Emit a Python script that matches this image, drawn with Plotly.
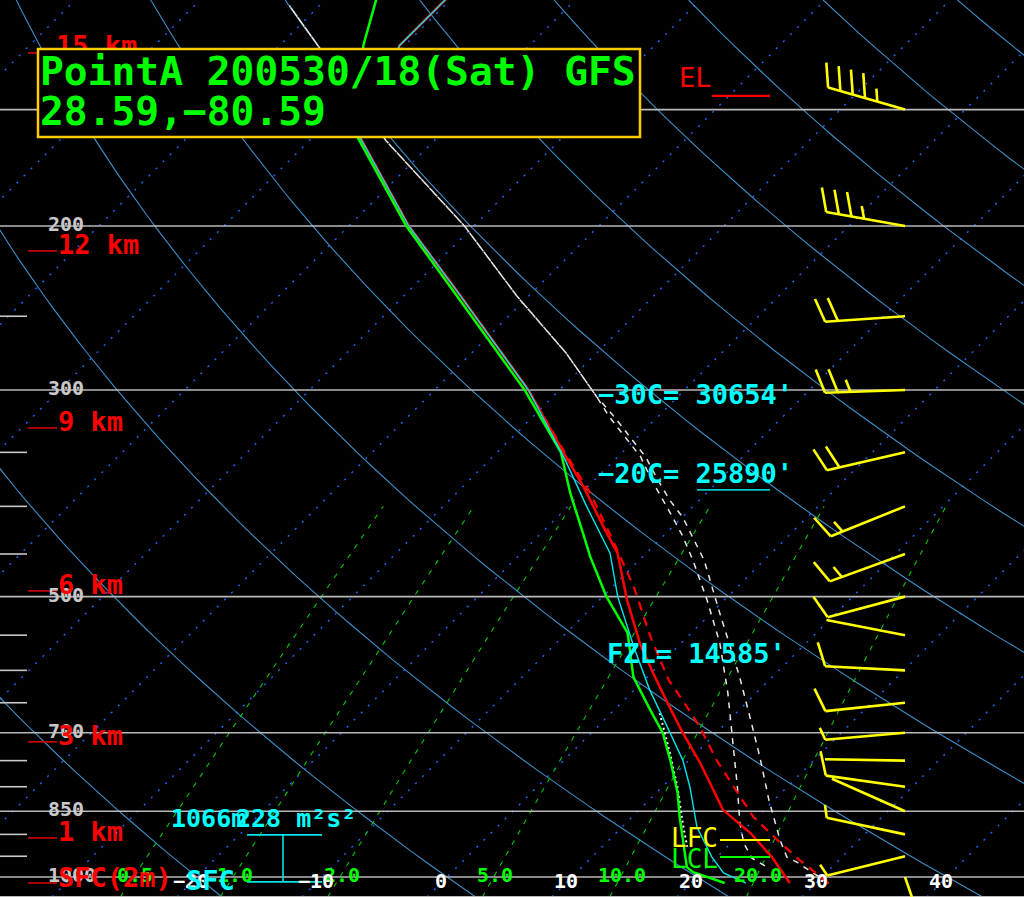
import math
import numpy as np
import plotly.graph_objects as go

# ---------------- sounding data (pressure hPa, temperature degC) ----------------
t_p = [1015, 952, 897, 847, 754, 700, 657, 604, 561, 504, 449, 421, 381, 350, 300, 238, 200, 160, 128, 114]
t_T = [27.9, 24.4, 20.75, 16.7, 11.1, 7.3, 4.2, 0.15, -3.3, -7.8, -12.3, -15.5, -20.35, -24.7, -32.5, -45.4, -55.2, -66.4, -70.4, -70.4]

td_p = [1015, 988, 976, 913, 862, 812, 749, 700, 662, 610, 547, 500, 453, 427, 387, 350, 300, 238, 200, 160, 128, 114]
td_T = [22.7, 19.3, 18.4, 15.9, 13.8, 11.7, 8.5, 5.7, 2.9, -1.1, -5.1, -9.7, -14.2, -16.7, -20.9, -24.9, -32.8, -45.7, -55.4, -66.6, -73.3, -76.0]

tv_p = [1015, 959, 913, 862, 812, 749, 690, 657, 615, 553, 488, 435, 387, 350, 300, 238, 200, 160, 128, 114]
tv_T = [31.0, 26.85, 23.5, 19.7, 16.5, 12.2, 8.2, 5.6, 2.0, -2.9, -8.3, -13.7, -19.3, -24.6, -32.5, -45.4, -55.2, -66.4, -70.4, -70.4]

tw_p = [1015, 990, 952, 884, 800, 749, 690, 630, 566, 500, 449, 401, 357, 300, 238, 200, 160, 128, 114]
tw_T = [24.4, 21.8, 19.6, 16.0, 12.2, 9.5, 5.6, 1.25, -3.5, -8.8, -12.9, -18.4, -23.9, -32.5, -45.4, -55.2, -66.4, -70.4, -70.4]

# downdraft parcel (white dotted)
dc_p = [667, 736, 800, 879, 928]
dc_T = [3.9, 7.9, 11.2, 14.7, 16.8]

# parcel traces (white dashed)
sb_p = [1015, 978, 964, 952, 913, 827, 743, 673, 610, 521, 457, 411, 394, 375, 354, 337, 321, 305, 274, 238, 200, 162, 126, 116]
sb_T = [31.0, 28.05, 26.8, 25.6, 23.7, 19.6, 15.4, 11.4, 7.4, 0.7, -4.8, -9.95, -12.35, -14.9, -17.75, -20.6, -23.4, -26.5, -32.4, -40.9, -50.75, -63.85, -77.8, -82.4]
ml_p = [973, 954, 919, 875, 800, 713, 634, 561, 504, 457, 431, 411, 394, 375, 354, 337, 321, 305, 274, 238, 200, 162, 126, 116]
ml_T = [24.55, 22.85, 21.0, 19.1, 16.0, 11.9, 7.7, 3.1, -1.4, -5.7, -8.4, -10.75, -12.9, -15.4, -18.15, -21.0, -23.8, -26.5, -32.4, -40.9, -50.75, -63.85, -77.8, -82.4]

# winds (hPa, direction deg, speed kt)
wind_p = [150, 200, 250, 300, 350, 400, 450, 500, 550, 600, 650, 700, 750, 800, 850, 900, 950, 1000]
wind_dir = [286, 280, 266, 268, 257, 248, 250, 255, 281, 273, 264, 265, 271, 278, 294, 282, 256, 161]
wind_spd = [45, 35, 20, 25, 20, 15, 15, 10, 3, 10, 10, 5, 3, 10, 3, 5, 5, 3]

# height markers
hgt_lbl = ["15 km", "12 km", "9 km", "6 km", "3 km", "1 km", "SFC(2m)"]
hgt_p = [130.4, 212.7, 329.5, 493.0, 716.0, 908.0, 1015.0]

# diagram furniture
main_p = [150, 200, 300, 500, 700, 850, 1000, 1050]
tick_p = [250, 350, 400, 450, 550, 600, 650, 750, 800, 900, 950]
plabel_p = [200, 300, 500, 700, 850, 1000]
iso_T = list(range(-130, 60, 10))
theta_C = list(range(-40, 220, 20))
mix_w = [0.5, 1.0, 2.0, 5.0, 10.0, 20.0]
mix_lbl = ["0.5", "1.0", "2.0", "5.0", "10.0", "20.0"]
tlabel_T = [-20, -10, 0, 10, 20, 30, 40]

# levels
el_p, lfc_p, lcl_p, m20_p = 145.0, 912.6, 951.8, 384.0
srh_top_p, srh_bot_p = 901.0, 1012.0

# ---------------- geometry of the diagram ----------------
W, H = 1024, 897
X0, SX, SK = 447.0, 12.5, 32.4      # px of 0C at 1000 hPa, px per degC, skew degC per ln(p)
Y1000, PY = 877.0, 404.5            # px of 1000 hPa, px per ln(p)
P_TOP = 1000 * math.exp(-Y1000 / PY)
P_BOT = 1000 * math.exp((H - Y1000) / PY)
XS_L, XS_R = -X0 / SX, (W - X0) / SX
FONT = "DejaVu Sans Mono"


def skew(T, p):
    T = np.asarray(T, float)
    p = np.asarray(p, float)
    return T + SK * np.log(1000.0 / p)


def xs_px(px):
    return (px - X0) / SX


def p_py(py):
    return 1000.0 * math.exp(-(Y1000 - py) / PY)


def py_p(p):
    return Y1000 - PY * math.log(1000.0 / p)


def td_of_w(w, p):
    e = w * p / (622.0 + w)
    a = np.log(e / 6.112)
    return 243.5 * a / (17.67 - a)


fig = go.Figure()


def line(x, y, color, width, dash=None):
    fig.add_trace(go.Scatter(x=x, y=y, mode="lines", hoverinfo="skip", showlegend=False,
                             line=dict(color=color, width=width, dash=dash)))


# isotherms (dotted blue)
ix, iy = [], []
for T in iso_T:
    ix += [T + SK * math.log(1000 / P_BOT), T + SK * math.log(1000 / P_TOP), None]
    iy += [P_BOT, P_TOP, None]
line(ix, iy, "#2266ff", 1.4, "2px,8px")

# dry adiabats
pg = np.geomspace(P_BOT, P_TOP, 80)
ax_, ay_ = [], []
for th in theta_C:
    T = (th + 273.15) * (pg / 1000.0) ** 0.286 - 273.15
    ax_ += list(skew(T, pg)) + [None]
    ay_ += list(pg) + [None]
line(ax_, ay_, "#3f8fc8", 1.1)

# mixing ratio lines
pm = np.geomspace(P_BOT, 400, 40)
mx, my = [], []
for w in mix_w:
    mx += list(skew(td_of_w(w, pm), pm)) + [None]
    my += list(pm) + [None]
line(mx, my, "#00c800", 1.1, "5px,7px")

# pressure lines
hx, hy = [], []
for p in main_p:
    hx += [XS_L, XS_R, None]
    hy += [p, p, None]
line(hx, hy, "#b9b9b9", 1.6)
tx, ty = [], []
for p in tick_p:
    tx += [XS_L, xs_px(27), None]
    ty += [p, p, None]
line(tx, ty, "#c8c8c8", 1.6)

# red height ticks
rx, ry = [], []
for p in hgt_p:
    rx += [xs_px(28), xs_px(57), None]
    ry += [p, p, None]
line(rx, ry, "#e00000", 1.5)

# parcel traces and profiles
line(list(skew(ml_T, ml_p)), ml_p, "#e6e6e6", 1.5, "6px,6px")
line(list(skew(sb_T, sb_p)), sb_p, "#e6e6e6", 1.5, "6px,6px")
line(list(skew(dc_T, dc_p)), dc_p, "#ffffff", 2, "2px,3px")
line(list(skew(tv_T, tv_p)), tv_p, "#ff0000", 2.2, "9px,7px")
line(list(skew(t_T, t_p)), t_p, "#ff0000", 2.5)
line(list(skew(td_T, td_p)), td_p, "#00ff00", 2.5)
line(list(skew(tw_T, tw_p)), tw_p, "#00e5e5", 1.4)

# SRH layer bracket
bx = [xs_px(247), xs_px(322), None, xs_px(283), xs_px(283), None, xs_px(247), xs_px(322)]
by = [srh_top_p, srh_top_p, None, srh_top_p, srh_bot_p, None, srh_bot_p, srh_bot_p]
line(bx, by, "#00e5e5", 1.6)

# level underlines
line([xs_px(712), xs_px(770)], [el_p, el_p], "#ff0000", 2.2)
line([xs_px(720), xs_px(770)], [lfc_p, lfc_p], "#ffff00", 2.2)
line([xs_px(720), xs_px(770)], [lcl_p, lcl_p], "#00ff00", 2.2)
line([xs_px(697), xs_px(770)], [m20_p, m20_p], "#00c8c8", 1.6)

# top height label as a text trace so that the title box covers it
fig.add_trace(go.Scatter(
    x=[xs_px(56)], y=[p_py(py_p(hgt_p[0]) - 5)], mode="text",
    text=["<b>%s</b>" % hgt_lbl[0]], textposition="middle right",
    textfont=dict(family=FONT, size=27, color="#ff0000"), hoverinfo="skip", showlegend=False))

# wind barbs
BARB_PX, STAFF, LONG, SHORT, SPACE = 905.0, 80.0, 25.0, 13.0, 12.8
wx, wy = [], []
for p, d, s in zip(wind_p, wind_dir, wind_spd):
    b0x, b0y = BARB_PX, py_p(p)
    th = math.radians(d)
    ux, uy = math.sin(th), -math.cos(th)
    tipx, tipy = b0x + STAFF * ux, b0y + STAFF * uy
    segs = [((b0x, b0y), (tipx, tipy))]
    prx, pry = -uy, ux
    a = math.radians(20)
    fx = math.cos(a) * prx + math.sin(a) * ux
    fy = math.cos(a) * pry + math.sin(a) * uy
    n10 = int(s // 10)
    n5 = int((s % 10) // 5)
    pos = 0.0
    for i in range(n10):
        sx0, sy0 = tipx - pos * ux, tipy - pos * uy
        segs.append(((sx0, sy0), (sx0 + LONG * fx, sy0 + LONG * fy)))
        pos += SPACE
    if n5:
        sx0, sy0 = tipx - pos * ux, tipy - pos * uy
        segs.append(((sx0, sy0), (sx0 + SHORT * fx, sy0 + SHORT * fy)))
    for (ax0, ay0), (ax1, ay1) in segs:
        wx += [xs_px(ax0), xs_px(ax1), None]
        wy += [p_py(ay0), p_py(ay1), None]
line(wx, wy, "#ffff00", 2.6)


# ---------------- annotations ----------------
def note(x, y, text, color, size, xanchor="left", bold=True, data=False):
    t = "<b>%s</b>" % text if bold else text
    if data:
        fig.add_annotation(x=x, y=math.log10(y), xref="x", yref="y", text=t, showarrow=False,
                           xanchor=xanchor, yanchor="middle", borderpad=0,
                           font=dict(family=FONT, size=size, color=color))
    else:
        fig.add_annotation(x=x / W, y=1 - y / H, xref="paper", yref="paper", text=t, showarrow=False,
                           xanchor=xanchor, yanchor="middle", borderpad=0,
                           font=dict(family=FONT, size=size, color=color))


# pressure labels
for p in plabel_p:
    note(xs_px(47), p_py(py_p(p) - 2), str(p), "#c8c8c8", 20, data=True)

# mixing ratio labels
for w, s in zip(mix_w, mix_lbl):
    note(float(td_of_w(w, 1000.0)) + 0.15, p_py(875), s, "#00ff00", 20, xanchor="center", data=True)

# temperature labels
for T in tlabel_T:
    s = ("\u2212%d" % abs(T)) if T < 0 else str(T)
    note(T - 0.45, p_py(881), s, "#ffffff", 20, xanchor="center", data=True)

# height labels (drawn over the pressure labels)
for s, p in zip(hgt_lbl[1:], hgt_p[1:]):
    note(xs_px(57), p_py(py_p(p) - 6), s, "#ff0000", 27, data=True)

note(185, 880, "SFC", "#00ffff", 27)
note(170, 818, "1066m", "#00ffff", 25)
note(235, 818, "228 m\u00b2s\u00b2", "#00ffff", 25)

note(597, 394, "\u221230C= 30654'", "#00ffff", 27)
note(597, 473, "\u221220C= 25890'", "#00ffff", 27)
note(606, 653, "FZL= 14585'", "#00ffff", 27)

note(713, 78, "EL", "#ff0000", 27, xanchor="right", bold=False)
note(719, 838, "LFC", "#ffff00", 26, xanchor="right", bold=False)
note(719, 859, "LCL", "#00ff00", 26, xanchor="right", bold=False)

# title box
fig.add_shape(type="rect", xref="paper", yref="paper", x0=38 / W, x1=640 / W,
              y0=1 - 137 / H, y1=1 - 49 / H, layer="above",
              line=dict(color="#ffcc00", width=2.5), fillcolor="#000000")
note(39, 71, "PointA 200530/18(Sat) GFS", "#00ff00", 39.6)
note(39, 111, "28.59,\u221280.59", "#00ff00", 39.6)

fig.update_layout(
    width=W, height=H, autosize=False,
    margin=dict(l=0, r=0, t=0, b=0, pad=0),
    paper_bgcolor="#000000", plot_bgcolor="#000000",
    showlegend=False,
    xaxis=dict(range=[XS_L, XS_R], visible=False, showgrid=False, zeroline=False, fixedrange=True),
    yaxis=dict(type="log", range=[math.log10(P_BOT), math.log10(P_TOP)], visible=False,
               showgrid=False, zeroline=False, fixedrange=True),
)

fig.write_html("out.html", config={"displayModeBar": False},
               post_script="document.body.style.margin='0';document.body.style.overflow='hidden';")
